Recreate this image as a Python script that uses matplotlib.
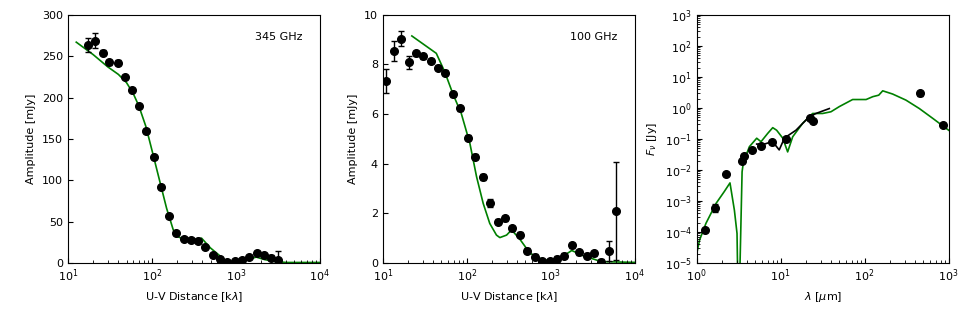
import numpy as np
import matplotlib
matplotlib.use('Agg')
import matplotlib.pyplot as plt
from matplotlib.ticker import LogLocator, NullFormatter

plt.rcParams['font.size'] = 8

# %%
# 345 GHz visibilities
uv_345 = [17.3, 21.3, 26.0, 31.1, 39.1, 47.7, 58.3, 71.3, 86.3, 105.4, 128.7,
          159.9, 195.4, 238.7, 291.6, 356.3, 434.8, 531, 649, 792, 968, 1183,
          1445, 1765, 2155, 2632, 3214]
amp_345 = [263.6, 268.9, 254.4, 242.7, 242.3, 224.5, 209.5, 189.7, 159.5,
           127.6, 91.8, 56.3, 35.7, 29.3, 27.6, 26.4, 18.7, 9.3, 5.2, 1.2, 2.0,
           4.0, 7.3, 12.5, 9.7, 6.5, 4.0]
err_345 = [8, 9, 3, 3, 3, 2, 2, 2, 2, 2, 2, 2, 2, 2, 2, 2, 2, 2, 2, 2, 2, 2,
           2, 2, 2, 3, 10.5]
mod_uv_345 = [12.6, 20, 30, 40, 50, 60, 70, 85, 100, 120, 150, 180, 200, 250,
              300, 391, 500, 740, 900, 1100, 1400, 1750, 2200, 3000, 4000,
              10000]
mod_amp_345 = [267, 252, 237, 228, 218, 205, 190, 165, 137, 105, 66, 40, 32,
               28, 27.5, 29.9, 18, 3.6, 1.5, 1.5, 4, 7, 4, 1.5, 0.5, 0.5]

# 100 GHz visibilities
uv_100 = [10.96, 13.5, 16.6, 20.3, 24.8, 30.3, 37.2, 45.4, 55.6, 68.7, 84.0,
          103.7, 127, 155, 190, 233, 284, 348, 430, 526, 650, 795, 972, 1191,
          1457, 1782, 2181, 2669, 3266, 3998, 4933, 6039]
amp_100 = [7.34, 8.55, 9.03, 8.08, 8.45, 8.34, 8.14, 7.87, 7.67, 6.80, 6.23,
           5.05, 4.28, 3.45, 2.42, 1.66, 1.79, 1.39, 1.14, 0.48, 0.24, 0.07,
           0.07, 0.17, 0.28, 0.71, 0.42, 0.28, 0.38, 0.04, 0.48, 2.09]
err_100 = [0.47, 0.4, 0.3, 0.25, 0.1, 0.1, 0.1, 0.1, 0.1, 0.1, 0.1, 0.1, 0.1,
           0.12, 0.15, 0.1, 0.1, 0.1, 0.1, 0.1, 0.1, 0.1, 0.1, 0.1, 0.1, 0.1,
           0.1, 0.1, 0.1, 0.1, 0.39, 1.97]
mod_uv_100 = [22.2, 43.4, 54.6, 68.7, 86, 109, 131, 157, 188, 226, 248, 298,
              342, 430, 566, 813, 1100, 1450, 1780, 2400, 4000, 10000]
mod_amp_100 = [9.15, 8.45, 7.71, 6.8, 6.03, 4.82, 3.47, 2.40, 1.59, 1.12, 1.02,
               1.12, 1.33, 0.95, 0.39, 0.12, 0.1, 0.3, 0.5, 0.3, 0.05, 0.02]

# SED photometry
wl_phot = [1.27, 1.67, 2.21, 3.50, 3.63, 4.56, 5.89, 7.88, 11.7, 22.1, 24.0,
           456, 857]
flux_phot = [1.14e-4, 6.1e-4, 7.3e-3, 0.0192, 0.0285, 0.0425, 0.058, 0.077,
             0.096, 0.48, 0.376, 2.94, 0.286]
ferr_phot = [1e-5, 1.6e-4, 5e-4, 1e-3, 2e-3, 3e-3, 4e-3, 5e-3, 6e-3, 0.03,
             0.03, 0.6, 0.03]

# IRS spectrum
wl_irs = [5.18, 6.4, 8.0, 9.6, 11.1, 15.2, 21.9, 26.3, 37.9]
flux_irs = [0.068, 0.068, 0.082, 0.044, 0.107, 0.19, 0.52, 0.66, 0.95]

# SED model
wl_mod = [1.0, 1.08, 1.29, 1.70, 2.13, 2.49, 2.81, 3.02, 3.10, 3.22, 3.47,
          3.60, 4.24, 5.18, 5.83, 7.00, 8.04, 8.95, 10.6, 12.1, 13.9, 18.3,
          24.0, 31.6, 39.7, 49.9, 71.9, 104, 125, 147, 164, 215, 310, 448,
          646, 1000]
flux_mod = [2.0e-5, 5.4e-5, 1.9e-4, 8.3e-4, 2.0e-3, 3.8e-3, 5.0e-4, 8.9e-5,
            1.0e-6, 1.0e-6, 8.7e-3, 1.8e-2, 5.6e-2, 0.105, 0.081, 0.15, 0.23,
            0.19, 0.105, 0.038, 0.117, 0.32, 0.66, 0.66, 0.75, 1.1, 1.86,
            1.86, 2.3, 2.57, 3.55, 2.8, 1.78, 0.95, 0.46, 0.19]

# %%
fig = plt.figure(figsize=(9.69, 3.10), dpi=100)
w, h, b = 0.260, 0.800, 0.152
ax = [fig.add_axes([l, b, w, h]) for l in (0.070, 0.395, 0.719)]

# 345 GHz
ax[0].plot(mod_uv_345, mod_amp_345, color='green', lw=1.2, zorder=1)
ax[0].errorbar(uv_345, amp_345, yerr=err_345, fmt='o', color='k', ms=5.5,
               capsize=2.5, elinewidth=1, zorder=2)
ax[0].set_ylim(0, 300)
ax[0].set_ylabel('Amplitude [mJy]')
ax[0].text(0.93, 0.91, '345 GHz', transform=ax[0].transAxes, ha='right',
           va='center')

# 100 GHz
ax[1].plot(mod_uv_100, mod_amp_100, color='green', lw=1.2, zorder=1)
ax[1].errorbar(uv_100, amp_100, yerr=err_100, fmt='o', color='k', ms=5.5,
               capsize=2.5, elinewidth=1, zorder=2)
ax[1].set_ylim(0, 10)
ax[1].set_ylabel('Amplitude [mJy]')
ax[1].text(0.93, 0.91, '100 GHz', transform=ax[1].transAxes, ha='right',
           va='center')

for a in ax[:2]:
    a.set_xscale('log')
    a.set_xlim(10, 1e4)
    a.set_xlabel(r'U-V Distance [k$\lambda$]')

# SED
ax[2].plot(wl_mod, flux_mod, color='green', lw=1.2, zorder=1)
ax[2].plot(wl_irs, flux_irs, color='k', lw=1.2, zorder=2)
ax[2].errorbar(wl_phot, flux_phot, yerr=ferr_phot, fmt='o', color='k', ms=5.5,
               capsize=2.5, elinewidth=1, zorder=3)
ax[2].set_xscale('log')
ax[2].set_yscale('log')
ax[2].set_xlim(1, 1e3)
ax[2].set_ylim(1e-5, 1e3)
ax[2].yaxis.set_major_locator(LogLocator(base=10, numticks=20))
ax[2].yaxis.set_minor_locator(LogLocator(base=10, subs=np.arange(2, 10),
                                         numticks=200))
ax[2].yaxis.set_minor_formatter(NullFormatter())
ax[2].set_xlabel(r'$\lambda$ [$\mu$m]')
ax[2].set_ylabel(r'$F_\nu$ [Jy]')

for a in ax:
    a.tick_params(which='both', direction='in', top=False, right=False)

fig.savefig('out.png', dpi=100)
